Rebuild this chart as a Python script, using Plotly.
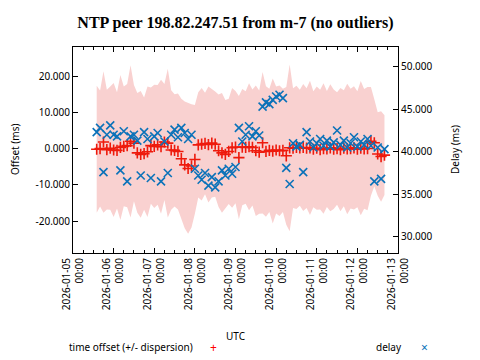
import pandas as pd
import plotly.graph_objects as go

# ---- data ----
start_time = "2026-01-05 14:00"
step = "2h"

offset_ms = [-0.2, 0.0, 1.8, -0.3, 0.1, -0.4,
             -0.5, 0.3, 0.6, 0.8,
             2.0, 1.5,
             -1.2, -1.6, -1.4, -0.9,
             0.8, 0.6, 1.0, 0.5,
             1.8, 1.5, -0.4,
             -0.5, -0.8,
             -2.8, -4.5, -5.5, -4.8,
             -3.0,
             1.0, 1.2, 1.4, 1.1, 1.5, 1.2,
             -0.6, -1.2, -1.6, -0.8,
             0.2, 0.4,
             -2.5,
             0.4, 0.3, 0.5, 0.3,
             -0.6, -1.0, 1.6,
             -0.8, -0.5, -0.7, -0.4, -0.6,
             -0.5,
             -2.0,
             0.2, 0.1, 0.3, 0.2, 0.3, 0.1, 0.2,
             -0.2, 0.1, -0.3, 0.0, -0.1, 0.2, -0.2, 0.0, -0.3, 0.1, -0.1, 0.0, 0.2, -0.2, 0.1, -0.1, 0.0,
             2.0, 1.6,
             -1.5, -2.2, -1.8]

dispersion_ms = [17.5, 16.0, 19.5, 16.5, 17.0, 18.5,
                 16.0, 20.0, 16.5, 17.0, 21.0, 16.0,
                 16.5, 17.5, 15.5, 18.0, 16.0, 17.0,
                 16.5, 18.5, 16.0, 20.5, 16.5, 15.5,
                 16.0, 16.5, 17.5, 18.0, 17.0, 15.0,
                 14.5, 15.5, 14.0, 16.0, 15.0, 14.5,
                 15.5, 16.5, 15.0, 14.5, 16.5, 15.5,
                 17.0, 16.0, 15.5, 17.5, 16.0, 18.0,
                 17.0, 19.5, 18.0, 17.0, 20.0, 17.5,
                 18.0, 17.0, 19.0, 23.0, 16.5, 17.0,
                 16.0, 17.5, 16.5, 18.5, 16.0, 17.0,
                 16.5, 18.0, 16.0, 17.5, 16.5, 15.5,
                 17.0, 16.0, 18.0, 16.5, 17.0, 16.0,
                 18.5, 16.5, 17.0, 15.0, 12.0, 11.5,
                 12.5, 11.0]

delay_ms = [42.3, 42.8, 37.6, 42.0, 43.1, 42.0, 41.8, 37.8, 42.4, 36.5,
            41.8, 42.0, 41.3, 37.2, 42.3, 41.5, 36.9, 41.8, 42.2, 36.5,
            41.2, 37.5, 42.0, 42.6, 41.7, 42.8, 42.2, 41.5, 42.0, 38.0,
            37.2, 36.7, 37.5, 36.0, 37.0, 35.8, 36.5, 37.8, 37.2, 38.0,
            37.4, 38.2, 42.8, 41.2, 42.0, 43.0, 41.8, 42.4, 41.9, 45.3,
            45.8, 45.6, 46.1, 46.5, 46.7, 46.3, 38.1, 36.2, 41.0, 40.6,
            40.8, 37.6, 42.3, 41.2, 40.5, 41.0, 41.5, 40.7, 41.3, 40.6,
            41.1, 42.5, 40.8, 41.3, 40.5, 41.0, 41.7, 40.6, 41.2, 40.8,
            41.5, 40.7, 36.5, 40.5, 36.8, 40.3]

x_ticks = pd.date_range("2026-01-05", "2026-01-13", freq="1D")
x_tick_labels = [d.strftime("%Y-%m-%d<br>%H:%M") for d in x_ticks]
y_ticks = [-20, -10, 0, 10, 20]
y2_ticks = [30, 35, 40, 45, 50]

times = pd.date_range(start_time, periods=len(offset_ms), freq=step)
upper = [o + d for o, d in zip(offset_ms, dispersion_ms)]
lower = [o - d for o, d in zip(offset_ms, dispersion_ms)]

RED = "#ee1a0c"
BLUE = "#0b72b9"
PINK = "#f9d1d0"
FONT = "Noto Sans"

fig = go.Figure()
fig.add_trace(go.Scatter(x=times, y=upper, mode="lines", line=dict(width=0),
                         hoverinfo="skip", showlegend=False))
fig.add_trace(go.Scatter(x=times, y=lower, mode="lines", line=dict(width=0),
                         fill="tonexty", fillcolor=PINK,
                         hoverinfo="skip", showlegend=False))
fig.add_trace(go.Scatter(x=times, y=offset_ms, mode="markers",
                         name="time offset (+/- dispersion)",
                         marker=dict(symbol="cross-thin", size=8,
                                     line=dict(color=RED, width=1.6), color=RED),
                         showlegend=False))
fig.add_trace(go.Scatter(x=times, y=delay_ms, mode="markers", yaxis="y2",
                         name="delay",
                         marker=dict(symbol="x-thin", size=8,
                                     line=dict(color=BLUE, width=1.6), color=BLUE),
                         showlegend=False))

# page is drawn with an 8px body margin, so the figure is 8px smaller
OFF = 8
PAGE_W, PAGE_H = 480, 360
W, H = PAGE_W - OFF, PAGE_H - OFF
# plot area in page pixels
PL, PR, PT, PB = 73, 398, 47, 253
L, R, T, B = PL - OFF, PAGE_W - PR, PT - OFF, PAGE_H - PB
pw, ph = PR - PL, PB - PT

def px(xp):
    return (xp - PL) / pw

def py(yp):
    return (PB - yp) / ph

axis_common = dict(showline=True, linecolor="black", linewidth=1,
                   showgrid=False, zeroline=False, ticks="inside",
                   tickcolor="black", ticklen=5, automargin=False,
                   tickfont=dict(family=FONT, size=10, color="black"))

fig.update_layout(
    width=W, height=H,
    margin=dict(l=L, r=R, t=T, b=B, autoexpand=False),
    paper_bgcolor="white", plot_bgcolor="white",
    showlegend=False,
    title=dict(text="<b>NTP peer 198.82.247.51 from m-7 (no outliers)</b>",
               font=dict(family="Liberation Serif", size=16, color="black"),
               x=(235.5 - OFF) / W, xanchor="center",
               y=1 - (22 - OFF) / H, yanchor="middle",
               automargin=False),
    xaxis=dict(type="date", range=["2026-01-05", "2026-01-13"],
               tickvals=x_ticks, ticktext=x_tick_labels, tickangle=-90,
               mirror="ticks",
               minor=dict(dtick=6 * 3600 * 1000, ticks="inside", ticklen=3,
                          tickcolor="black", showgrid=False),
               **axis_common),
    yaxis=dict(range=[-28.8, 28.0], tickvals=y_ticks,
               ticktext=[f"{v:.3f}" for v in y_ticks], **axis_common),
    yaxis2=dict(range=[28.08, 52.32], overlaying="y", side="right",
                tickvals=y2_ticks, ticktext=[f"{v:.3f}" for v in y2_ticks],
                **axis_common),
)

ann_font = dict(family=FONT, size=10, color="black")
fig.add_annotation(text="Offset (ms)", textangle=-90, xref="paper", yref="paper",
                   x=px(15), y=0.5, showarrow=False, font=ann_font,
                   xanchor="center", yanchor="middle")
fig.add_annotation(text="Delay (ms)", textangle=-90, xref="paper", yref="paper",
                   x=px(455), y=0.5, showarrow=False, font=ann_font,
                   xanchor="center", yanchor="middle")
fig.add_annotation(text="UTC", xref="paper", yref="paper",
                   x=px(235.5), y=py(336), showarrow=False, font=ann_font,
                   xanchor="center", yanchor="middle")
fig.add_annotation(text="time offset (+/- dispersion)", xref="paper", yref="paper",
                   x=px(195), y=py(347), showarrow=False, font=ann_font,
                   xanchor="right", yanchor="middle")
fig.add_annotation(text="+", xref="paper", yref="paper",
                   x=px(213), y=py(347), showarrow=False,
                   font=dict(family=FONT, size=12, color="#ff0000"),
                   xanchor="center", yanchor="middle")
fig.add_annotation(text="delay", xref="paper", yref="paper",
                   x=px(404), y=py(347), showarrow=False, font=ann_font,
                   xanchor="right", yanchor="middle")
fig.add_annotation(text="×", xref="paper", yref="paper",
                   x=px(424), y=py(347), showarrow=False,
                   font=dict(family=FONT, size=12, color=BLUE),
                   xanchor="center", yanchor="middle")

fig.write_html("out.html")
